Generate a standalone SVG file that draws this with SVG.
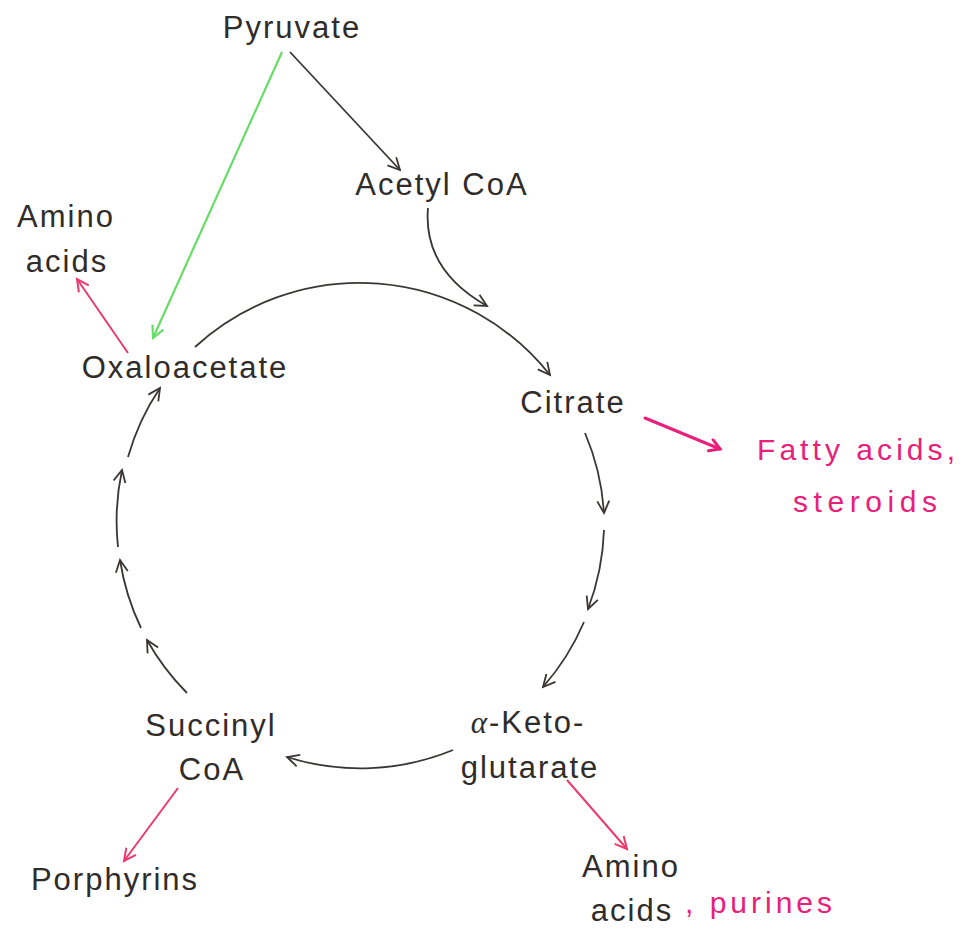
<svg xmlns="http://www.w3.org/2000/svg" width="971" height="935" viewBox="0 0 971 935">
<style>
.t{font-family:"Liberation Sans",Arial,sans-serif;font-size:31px;fill:#2f2c2a;letter-spacing:2px;text-anchor:middle}
.h{font-family:"Liberation Sans",Arial,sans-serif;font-size:30px;fill:#e8207a}
.k{fill:none;stroke:#3a3634;stroke-width:1.8}
.r{fill:none;stroke:#ec3a6c;stroke-width:2}
.g{fill:none;stroke:#66dd66;stroke-width:2.2}
.m{fill:none;stroke:#e8207a;stroke-width:3;stroke-linecap:round}
</style>
<defs>
<marker id="ak" markerWidth="16" markerHeight="16" refX="13" refY="7" orient="auto" markerUnits="userSpaceOnUse"><path d="M1,1 L13,7 L1,13" fill="none" stroke="#3a3634" stroke-width="1.8"/></marker>
<marker id="ar" markerWidth="16" markerHeight="16" refX="13" refY="7" orient="auto" markerUnits="userSpaceOnUse"><path d="M1,1 L13,7 L1,13" fill="none" stroke="#ec3a6c" stroke-width="2"/></marker>
<marker id="ag" markerWidth="16" markerHeight="16" refX="13" refY="7" orient="auto" markerUnits="userSpaceOnUse"><path d="M1,1 L13,7 L1,13" fill="none" stroke="#66dd66" stroke-width="2.2"/></marker>
<marker id="am" markerWidth="16" markerHeight="16" refX="12" refY="7" orient="auto" markerUnits="userSpaceOnUse"><path d="M2,1 L12,7 L2,13" fill="none" stroke="#e8207a" stroke-width="3" stroke-linecap="round"/></marker>
</defs>
<rect width="971" height="935" fill="#ffffff"/>
<g id="pyruvate"><text class="t" x="292" y="38">Pyruvate</text></g>
<g id="acetylcoa"><text class="t" x="442" y="195">Acetyl CoA</text></g>
<g id="aminoacids1"><text class="t" x="66" y="227">Amino</text><text class="t" x="67" y="272">acids</text></g>
<g id="oxaloacetate"><text class="t" x="185" y="378">Oxaloacetate</text></g>
<g id="citrate"><text class="t" x="573" y="413">Citrate</text></g>
<g id="fattyacids"><text class="h" x="757" y="460" textLength="198" lengthAdjust="spacing">Fatty acids,</text><text class="h" x="793" y="512" textLength="144" lengthAdjust="spacing">steroids</text></g>
<g id="ketoglutarate"><text class="t" x="528" y="733"><tspan font-family="Liberation Serif" font-style="italic">α</tspan>-Keto-</text><text class="t" x="530" y="778">glutarate</text></g>
<g id="aminoacids2"><text class="t" x="631" y="877">Amino</text><text class="t" x="632" y="921">acids</text><text class="h" x="685" y="913" textLength="147" lengthAdjust="spacing">, purines</text></g>
<g id="succinylcoa"><text class="t" x="211" y="736">Succinyl</text><text class="t" x="212" y="780">CoA</text></g>
<g id="porphyrins"><text class="t" x="115" y="890">Porphyrins</text></g>
<g id="connectors">
<path class="k" d="M290,52 L400,170" marker-end="url(#ak)"/>
<path class="g" d="M282,52 L153,338" marker-end="url(#ag)"/>
<path class="k" d="M428,208 C424,255 450,285 487,306" marker-end="url(#ak)"/>
<path class="k" d="M195,347 A243,243 0 0 1 550,375" marker-end="url(#ak)"/>
<path class="k" d="M585,433 A243,243 0 0 1 604,513" marker-end="url(#ak)"/>
<path class="k" d="M604,530 A243,243 0 0 1 588,609" marker-end="url(#ak)"/>
<path class="k" d="M584,622 A243,243 0 0 1 543,687" marker-end="url(#ak)"/>
<path class="k" d="M453,750 A243,243 0 0 1 287,757" marker-end="url(#ak)"/>
<path class="k" d="M187,693 A243,243 0 0 1 147,640" marker-end="url(#ak)"/>
<path class="k" d="M141,628 A243,243 0 0 1 120,560" marker-end="url(#ak)"/>
<path class="k" d="M118,547 A243,243 0 0 1 122,470" marker-end="url(#ak)"/>
<path class="k" d="M128,457 A243,243 0 0 1 160,388" marker-end="url(#ak)"/>
<path class="r" d="M128,353 L77,279" marker-end="url(#ar)"/>
<path class="r" d="M567,780 L627,849" marker-end="url(#ar)"/>
<path class="r" d="M178,788 L124,861" marker-end="url(#ar)"/>
<path class="m" d="M645,418 L720,449" marker-end="url(#am)"/>
</g>
</svg>
